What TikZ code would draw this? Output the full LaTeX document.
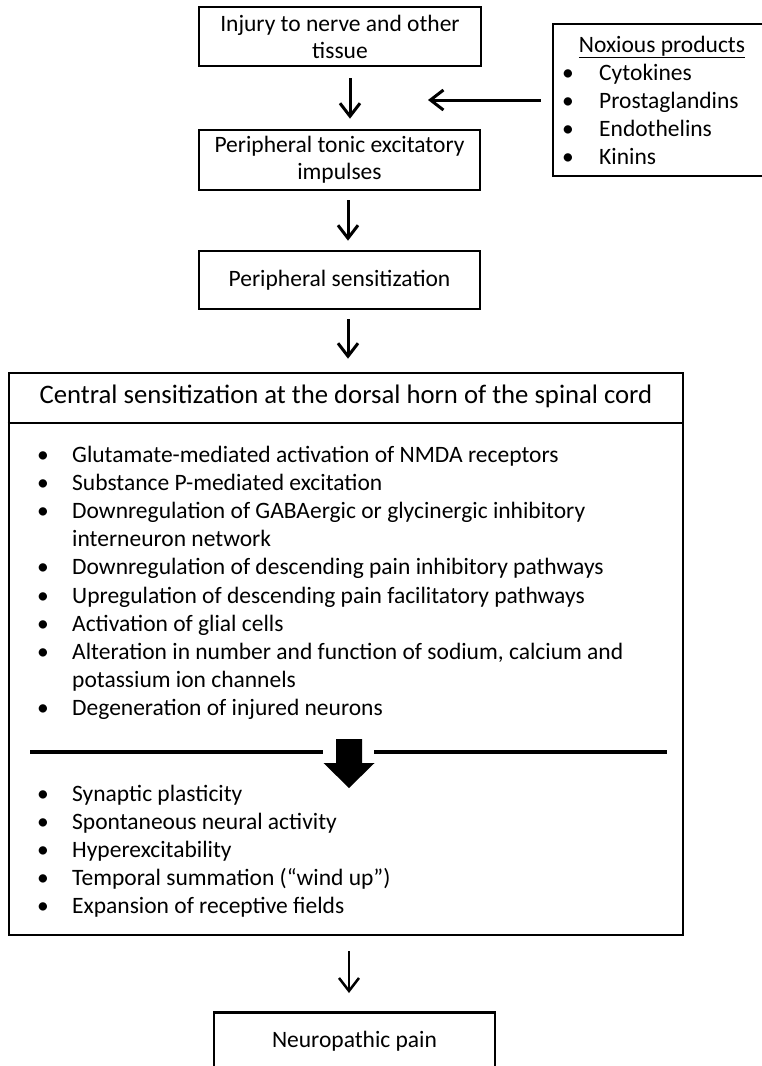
\documentclass[tikz,border=0pt]{standalone}
\usepackage{fontspec}
\setmainfont{Carlito}
\usetikzlibrary{arrows.meta}
% bullet and hanging indent for the lists
\newcommand{\bitem}[1][35pt]{\makebox[#1][l]{\textbullet}}
\newcommand{\bcont}[1][35pt]{\hspace*{#1}}

\begin{document}
\begin{tikzpicture}[
  x=1pt, y=-1pt,
  box/.style={draw, line width=2.6pt, inner sep=0pt, align=center,
    font={\fontsize{23.5pt}{27pt}\selectfont}},
  txt/.style={inner sep=0pt, align=left,
    font={\fontsize{23.5pt}{28.2pt}\selectfont}},
  head/.style={inner sep=0pt, font={\fontsize{26.7pt}{30pt}\selectfont}},
  arr/.style={-{Straight Barb[length=13pt,width=20pt]}, line width=3pt},
  sepline/.style={line width=3.5pt},
  ]
  % Page
  \useasboundingbox (0,0) rectangle (762,1066);
  \clip (0,0) rectangle (762,1066);
  % Upper chain
  \node[box, minimum width=282pt, minimum height=59pt] (injury) at (340,36.5)
    {Injury to nerve and other\\tissue};
  \node[box, minimum width=281pt, minimum height=60pt] (tonic) at (339.5,160)
    {Peripheral tonic excitatory\\impulses};
  \node[box, minimum width=281pt, minimum height=58pt] (periph) at (339.5,280)
    {Peripheral sensitization};
  % Noxious products (runs off the right edge; base = last line)
  \node[box, minimum width=300pt, minimum height=152pt] (noxbox) at (703,100) {};
  \node[txt, anchor=base] (noxhead) at (662,52) {\underline{Noxious products}};
  \node[txt, anchor=base west] (noxlist) at (562,164.6)
    {\bitem[37pt]Cytokines\\ \bitem[37pt]Prostaglandins\\
     \bitem[37pt]Endothelins\\ \bitem[37pt]Kinins};
  \coordinate (noxtip) at (428,100);
  % Central sensitization
  \node[box, minimum width=674pt, minimum height=562pt] (central) at (346,654) {};
  \node[head, anchor=base] (centralhead) at (346,403)
    {Central sensitization at the dorsal horn of the spinal cord};
  \draw[line width=2.6pt] (central.west |- 0,423) -- (central.east |- 0,423);
  \node[txt, anchor=base west] (mechs) at (37,715.8)
    {\bitem Glutamate-mediated activation of NMDA receptors\\
     \bitem Substance P-mediated excitation\\
     \bitem Downregulation of GABAergic or glycinergic inhibitory\\
     \bcont interneuron network\\
     \bitem Downregulation of descending pain inhibitory pathways\\
     \bitem Upregulation of descending pain facilitatory pathways\\
     \bitem Activation of glial cells\\
     \bitem Alteration in number and function of sodium, calcium and\\
     \bcont potassium ion channels\\
     \bitem Degeneration of injured neurons};
  % Divider with block arrow
  \draw[sepline] (30,752) -- (323,752);
  \draw[sepline] (374,752) -- (667,752);
  \fill (336,739) -- (362,739) -- (362,763) -- (374.5,763) -- (349,788)
    -- (323.5,763) -- (336,763) -- cycle;
  \node[txt, anchor=base west] (effects) at (37,913.8)
    {\bitem Synaptic plasticity\\
     \bitem Spontaneous neural activity\\
     \bitem Hyperexcitability\\
     \bitem Temporal summation (“wind up”)\\
     \bitem Expansion of receptive fields};
  % Outcome
  \node[box, anchor=north, minimum width=281pt, minimum height=58pt] (pain)
    at (354.5,1011) {Neuropathic pain};
  % Arrows
  \draw[arr, shorten <=11pt, shorten >=10pt]
    ([xshift=10pt]injury.south) -- ([xshift=10pt]injury.south |- tonic.north);
  \draw[arr, shorten <=9pt, shorten >=9pt]
    ([xshift=8.5pt]tonic.south) -- ([xshift=8.5pt]tonic.south |- periph.north);
  \draw[arr, shorten <=9pt, shorten >=13pt]
    ([xshift=8.5pt]periph.south) -- ([xshift=8.5pt]periph.south |- central.north);
  \draw[arr, line width=2.5pt, shorten <=15pt, shorten >=18pt]
    ([xshift=3pt]central.south) -- ([xshift=3pt]central.south |- pain.north);
  \draw[arr, shorten <=11pt] (noxbox.west) -- (noxtip);
\end{tikzpicture}
\end{document}
